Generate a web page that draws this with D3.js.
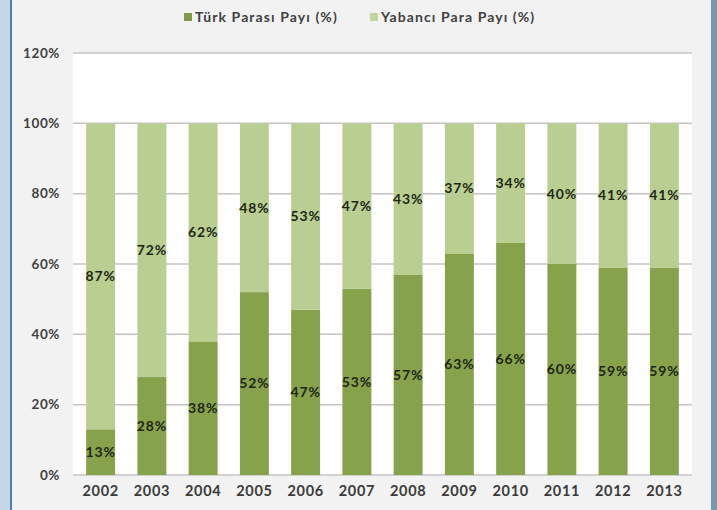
<!DOCTYPE html>
<html><head><meta charset="utf-8">
<script src="https://cdn.jsdelivr.net/npm/d3@7"></script>
<style>
html,body{margin:0;padding:0;background:#f2f2f2;}
svg{display:block;}
</style></head>
<body>
<svg id="c" width="717" height="510"></svg>
<script>
const years = ["2002","2003","2004","2005","2006","2007","2008","2009","2010","2011","2012","2013"];
const turkShare = [13,28,38,52,47,53,57,63,66,60,59,59];
const foreignShare = [87,72,62,48,53,47,43,37,34,40,41,41];
const seriesNames = ["Türk Parası Payı (%)","Yabancı Para Payı (%)"];
const yTicks = [0,20,40,60,80,100,120];

const svg = d3.select("#c");
const W = 717, H = 510;
const m = {left:75, right:690, top:53, bottom:475};
const colors = ["#86a34b","#b9cf92"];
const legendColors = ["#7f9b47","#c2d59a"];

// background and borders
svg.append("rect").attr("x",0).attr("y",0).attr("width",W).attr("height",H).attr("fill","#f2f2f2");
svg.append("rect").attr("x",0).attr("y",0).attr("width",10).attr("height",H).attr("fill","#c3d8e6");
svg.append("rect").attr("x",10).attr("y",0).attr("width",2).attr("height",H).attr("fill","#4d819f");
svg.append("rect").attr("x",711).attr("y",0).attr("width",6).attr("height",H).attr("fill","#7d97a8");

const x = d3.scaleBand().domain(years).range([m.left,m.right]).paddingInner(0.435).paddingOuter(0.2175);
const y = d3.scaleLinear().domain([0,120]).range([m.bottom,m.top]);

// plot area
svg.append("rect").attr("x",m.left-2).attr("y",m.top).attr("width",m.right-m.left+4).attr("height",m.bottom-m.top).attr("fill","#ffffff");

// gridlines
svg.append("g").selectAll("line").data(yTicks).join("line")
  .attr("x1",m.left-2).attr("x2",m.right+2)
  .attr("y1",d=>y(d)).attr("y2",d=>y(d))
  .attr("stroke","#c4c4c4").attr("stroke-width",1.5);

// y axis labels
const yAxis = d3.axisLeft(y).tickValues(yTicks).tickFormat(d=>d+"%").tickSize(0).tickPadding(0);
const ya = svg.append("g").attr("transform",`translate(60,0)`).call(yAxis);
ya.select(".domain").remove();
ya.selectAll("text").attr("font-family","Lato, sans-serif").attr("font-weight","bold").attr("font-size","13.5px").attr("letter-spacing","0.6px").attr("fill","#404040");

// x axis labels
const xAxis = d3.axisBottom(x).tickSize(0).tickPadding(0);
const xa = svg.append("g").attr("transform",`translate(0,486)`).call(xAxis);
xa.select(".domain").remove();
xa.selectAll("text").attr("font-family","Lato, sans-serif").attr("font-weight","bold").attr("font-size","14.5px").attr("fill","#3a3a3a").attr("letter-spacing","0.7px");

// stack
const rows = years.map((yr,i)=>({year:yr, t:turkShare[i], f:foreignShare[i]}));
const stack = d3.stack().keys(["t","f"])(rows);

const g = svg.append("g");
stack.forEach((s,si)=>{
  g.append("g").selectAll("rect").data(s).join("rect")
    .attr("x",d=>x(d.data.year)).attr("width",x.bandwidth())
    .attr("y",d=>y(d[1])).attr("height",d=>y(d[0])-y(d[1]))
    .attr("fill",colors[si]);
});
stack.forEach((s,si)=>{
  g.append("g").selectAll("text").data(s).join("text")
    .attr("x",d=>x(d.data.year)+x.bandwidth()/2)
    .attr("y",d=>y((d[0]+d[1])/2))
    .attr("dy","0.35em").attr("text-anchor","middle")
    .attr("font-family","Lato, sans-serif").attr("font-weight","bold").attr("font-size","14px")
    .attr("letter-spacing","0.8px")
    .attr("fill","#1e2614")
    .text(d=>(d[1]-d[0])+"%");
});

// legend
const leg = svg.append("g").attr("transform","translate(184,17)");
let lx = 0;
seriesNames.forEach((n,i)=>{
  const gg = leg.append("g").attr("transform",`translate(${lx},0)`);
  gg.append("rect").attr("x",0).attr("y",-4).attr("width",8).attr("height",8).attr("fill",legendColors[i]);
  const t = gg.append("text").attr("x",11).attr("y",0).attr("dy","0.35em")
    .attr("font-family","Lato, sans-serif").attr("font-weight","bold").attr("font-size","14px")
    .attr("letter-spacing","1.1px").attr("fill","#404040").text(n);
  lx += 11 + t.node().getComputedTextLength() + 32;
});
</script>
</body></html>
